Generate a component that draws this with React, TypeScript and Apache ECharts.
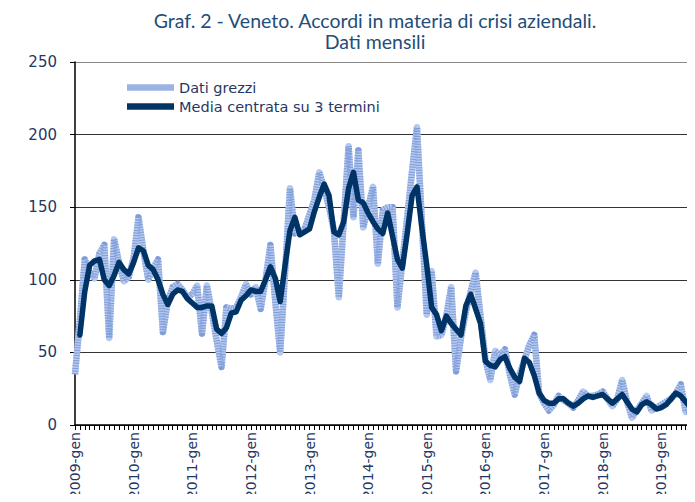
import React, { useEffect, useRef } from "react";
import * as echarts from "echarts";

const years = [2009, 2010, 2011, 2012, 2013, 2014, 2015, 2016, 2017, 2018, 2019];
const months = ["gen", "feb", "mar", "apr", "mag", "giu", "lug", "ago", "set", "ott", "nov", "dic"];

const titleLines = ["Graf. 2 - Veneto. Accordi in materia di crisi aziendali.", "Dati mensili"];
const seriesNames = ["Dati grezzi", "Media centrata su 3 termini"];
const yTicks = [0, 50, 100, 150, 200, 250];

// Dati grezzi (monthly raw values), 2009-gen ... 2019-ago
const rawData = [
  35, 72, 114, 105, 101, 118, 124, 60, 128, 112, 99, 102,
  115, 143, 120, 100, 108, 114, 64, 85, 95, 97, 93, 88,
  90, 96, 63, 96, 78, 58, 40, 81, 80, 81, 88, 97,
  90, 95, 80, 100, 124, 85, 50, 105, 163, 132, 133, 135,
  145, 155, 174, 163, 150, 134, 88, 140, 192, 143, 189, 136,
  150, 164, 111, 148, 150, 150, 81, 112, 143, 175, 205, 140,
  76, 106, 61, 62, 75, 95, 37, 60, 78, 92, 105, 75,
  45, 31, 51, 48, 52, 35, 21, 35, 45, 55, 62, 22,
  15, 10, 14, 20, 17, 15, 12, 17, 23, 20, 20, 21,
  23, 18, 13, 18, 31, 16, 5, 10, 15, 20, 10, 12,
  14, 16, 18, 22, 28, 9, 10, 12,
];

// Media centrata su 3 termini
const maData = [
  null, 62, 92, 110, 113, 114, 100, 96, 103, 112, 107, 104,
  112, 122, 120, 110, 107, 100, 90, 83, 90, 93, 92, 87,
  84, 81, 81, 82, 82, 66, 63, 67, 77, 78, 86, 89,
  93, 92, 92, 100, 109, 101, 85, 110, 134, 143, 131, 133,
  135, 147, 157, 166, 158, 133, 131, 140, 163, 174, 155, 153,
  146, 140, 135, 132, 146, 130, 114, 108, 132, 158, 164, 136,
  110, 81, 76, 65, 75, 70, 66, 62, 82, 90, 80, 70,
  44, 41, 40, 45, 47, 39, 33, 30, 46, 43, 34, 22,
  17, 15, 15, 18, 18, 15, 13, 15, 18, 20, 19, 20,
  21, 18, 15, 18, 21, 16, 11, 9, 14, 16, 14, 11,
  12, 14, 18, 22, 20, 16, 12, 10,
];

const categories = years.flatMap((y) => months.map((m) => `${y}-${m}`));

const NAVY = "#1F3864";
const RAW = "#B5C8ED";
const RAW_DOT = "#7F9DDA";
const RAW_LEGEND = "#9BB3E3";
const MA = "#003366";

export default function App() {
  const ref = useRef<HTMLDivElement>(null);

  useEffect(() => {
    if (!ref.current) return;
    const chart = echarts.init(ref.current, undefined, { renderer: "svg" });
    const titleStyle = { textAlign: "center", textVerticalAlign: "middle", fontFamily: "Lato", fontSize: 19.5, fill: "#1F4E79" };
    chart.setOption({
      animation: false,
      backgroundColor: "#ffffff",
      graphic: [
        { type: "rect", shape: { x: 4, y: 12, width: 4, height: 500 }, style: { fill: "#CBCBCB" }, silent: true },
        { type: "text", x: 375, y: 20, style: { ...titleStyle, text: titleLines[0] } },
        { type: "text", x: 375, y: 41, style: { ...titleStyle, text: titleLines[1] } },
      ],
      legend: {
        data: [
          { name: seriesNames[0], icon: "rect", itemStyle: { color: RAW_LEGEND } },
          { name: seriesNames[1], icon: "rect", itemStyle: { color: MA } },
        ],
        orient: "vertical",
        left: 122,
        top: 75,
        itemWidth: 47,
        itemHeight: 6.5,
        itemGap: 4,
        textStyle: { fontFamily: "DejaVu Sans", fontSize: 14.5, color: NAVY },
      },
      grid: { left: 75, width: 640, top: 62, bottom: 77, containLabel: false, outerBoundsMode: "none" },
      xAxis: {
        type: "category",
        data: categories,
        boundaryGap: false,
        axisLine: { show: true, lineStyle: { color: "#000", width: 1.5 } },
        axisTick: { show: true, interval: 0, length: 5, lineStyle: { color: "#000", width: 1 } },
        axisLabel: {
          interval: 11,
          rotate: 90,
          margin: 7,
          color: NAVY,
          fontFamily: "DejaVu Sans",
          fontSize: 14,
        },
        splitLine: { show: false },
      },
      yAxis: {
        type: "value",
        min: yTicks[0],
        max: yTicks[yTicks.length - 1],
        interval: 50,
        axisLine: { show: true, lineStyle: { color: "#000", width: 1.5 } },
        axisTick: { show: true, length: 5, lineStyle: { color: "#000" } },
        axisLabel: { margin: 18, color: NAVY, fontFamily: "DejaVu Sans", fontSize: 15 },
        splitLine: { show: true, lineStyle: { color: ["#333", "#333", "#333", "#333", "#333", "#888"], width: 1.2 } },
      },
      series: [
        {
          name: seriesNames[0],
          type: "line",
          data: rawData,
          symbol: "none",
          lineStyle: { color: RAW, width: 6.5, join: "round" },
          itemStyle: { color: RAW_LEGEND },
          z: 2,
        },
        {
          name: "texture",
          type: "line",
          data: rawData,
          symbol: "none",
          silent: true,
          lineStyle: { color: RAW_DOT, width: 6.5, type: [1, 1.6], join: "round" },
          itemStyle: { color: RAW_DOT },
          z: 3,
        },
        {
          name: seriesNames[1],
          type: "line",
          data: maData,
          symbol: "none",
          connectNulls: false,
          lineStyle: { color: MA, width: 5.5, join: "round", cap: "round" },
          itemStyle: { color: MA },
          z: 4,
        },
      ],
    });
    return () => chart.dispose();
  }, []);

  return <div ref={ref} style={{ width: 695, height: 502, margin: -8 }} />;
}
